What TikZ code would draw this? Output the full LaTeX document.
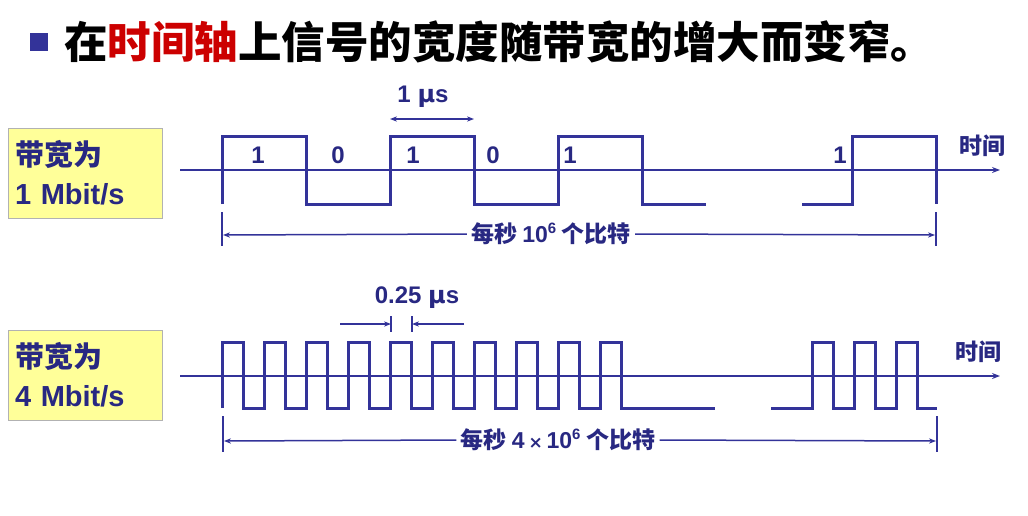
\documentclass[tikz,border=0pt]{standalone}
\usepackage{fontspec}
\setmainfont{Liberation Sans}
\newfontfamily\cjk{Noto Sans CJK SC}
\newfontfamily\dvs{DejaVu Sans}
\usetikzlibrary{arrows.meta}
\definecolor{sig}{RGB}{51,51,153}
\definecolor{txt}{RGB}{40,40,130}
\definecolor{boxy}{RGB}{255,255,153}
\definecolor{ttlred}{RGB}{204,0,0}
\begin{document}
\begin{tikzpicture}[x=1pt,y=-1pt,
  wave/.style={draw=sig,line width=3pt},
  axisl/.style={draw=sig,line width=1.6pt,-{Stealth[length=8pt]}},
  dim/.style={draw=sig,line width=1.5pt},
  lbl/.style={text=txt,font=\bfseries\fontsize{24}{26}\selectfont,inner sep=1pt},
  cj/.style={text=txt,font=\cjk\bfseries\fontsize{23}{25}\selectfont,inner sep=1pt},
  ybox/.style={draw=gray!60,fill=boxy,line width=0.8pt,minimum width=154pt,minimum height=90pt,text width=140pt,text=txt,font=\bfseries\fontsize{29}{39}\selectfont,align=left}]
\useasboundingbox (0,0) rectangle (1028,515);
% title
\fill[sig] (30,33) rectangle (48,51);
\node[anchor=west,inner sep=0,font=\cjk\bfseries\fontsize{43.5}{46}\selectfont] (title) at (64,42) {在\textcolor{ttlred}{时间轴}上信号的宽度随带宽的增大而变窄。};
% boxes
\node[ybox] (b1) at (85,173) {{\cjk 带宽为}\\1 Mbit/s};
\node[ybox] (b2) at (85,375) {{\cjk 带宽为}\\4 Mbit/s};
% top axis
\coordinate (a1s) at (180,170); \coordinate (a1e) at (1000,170);
\draw[axisl] (a1s) -- (a1e);
\node[cj,anchor=west] (t1) at (958,146) {时间};
\draw[wave] (222,204) -- (222,136) -- (306,136) -- (306,204) -- (390,204) -- (390,136) -- (474,136) -- (474,204) -- (558,204) -- (558,136) -- (642,136) -- (642,204) -- (706,204);
\draw[wave] (802,204) -- (852,204) -- (852,136) -- (936,136) -- (936,204);
\foreach \x/\b [count=\i] in {258/1,338/0,413/1,493/0,570/1,840/1}
  \node[lbl] (bit\i) at (\x,155) {\b};
% 1 us
\coordinate (u1) at (390,119); \coordinate (u2) at (474,119);
\draw[dim,{Stealth[length=7pt]}-{Stealth[length=7pt]}] (u1) -- (u2);
\node[lbl] (us1) at (423,97) {1 {\dvs\bfseries μ}s};
% top dimension
\draw[dim] (222,212) -- (222,246); \draw[dim] (936,212) -- (936,246);
\node[cj,fill=white,inner sep=4pt] (d1) at (551,234) {每秒 {\fontspec{Liberation Sans}\bfseries 10\textsuperscript{\fontsize{15}{15}\selectfont 6}} 个比特};
\coordinate (d1l) at (223,235); \coordinate (d1r) at (935,235);
\draw[dim,-{Stealth[length=7pt]}] (d1.west) -- (d1l);
\draw[dim,-{Stealth[length=7pt]}] (d1.east) -- (d1r);
% bottom axis
\coordinate (a2s) at (180,376); \coordinate (a2e) at (1000,376);
\draw[axisl] (a2s) -- (a2e);
\node[cj,anchor=west] (t2) at (954,352) {时间};
\draw[wave] (222,408) \foreach \k in {0,...,9} { -- ({222+42*\k},342) -- ({243+42*\k},342) -- ({243+42*\k},408) -- ({264+42*\k},408) } ;
\draw[wave] (630,408) -- (715,408);
\draw[wave] (771,408) \foreach \k in {0,1,2} { -- ({812+42*\k},408) -- ({812+42*\k},342) -- ({833+42*\k},342) -- ({833+42*\k},408) } -- (937,408);
% 0.25 us
\draw[dim] (391,316) -- (391,332); \draw[dim] (412,316) -- (412,332);
\coordinate (q1) at (391,324); \coordinate (q2) at (412,324);
\coordinate (q0) at (340,324); \coordinate (q3) at (464,324);
\draw[dim,-{Stealth[length=7pt]}] (q0) -- (q1);
\draw[dim,-{Stealth[length=7pt]}] (q3) -- (q2);
\node[lbl] (us2) at (417,298) {0.25 {\dvs\bfseries μ}s};
% bottom dimension
\draw[dim] (223,416) -- (223,452); \draw[dim] (937,416) -- (937,452);
\node[cj,fill=white,inner sep=4pt] (d2) at (558,440) {每秒 {\fontspec{Liberation Sans}\bfseries 4\,{\dvs\fontsize{17}{17}\selectfont ×}\,10\textsuperscript{\fontsize{15}{15}\selectfont 6}} 个比特};
\coordinate (d2l) at (224,441); \coordinate (d2r) at (936,441);
\draw[dim,-{Stealth[length=7pt]}] (d2.west) -- (d2l);
\draw[dim,-{Stealth[length=7pt]}] (d2.east) -- (d2r);
\end{tikzpicture}
\end{document}
